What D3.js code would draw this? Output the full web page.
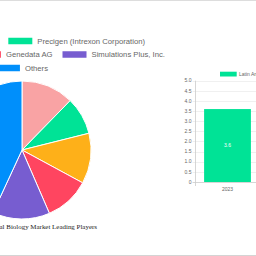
<!DOCTYPE html>
<html>
<head>
<meta charset="utf-8">
<script src="https://cdn.jsdelivr.net/npm/d3@7"></script>
<style>
  body { margin: 0; background: #fff; overflow: hidden; }
  svg { display: block; }
</style>
</head>
<body>
<svg id="chart" width="256" height="256"></svg>
<script>
// leading players pie
var players = ["Certara, Inc.", "Precigen (Intrexon Corporation)", "Schrodinger, Inc.", "Genedata AG", "Simulations Plus, Inc.", "Others"];
var shares = [12.3, 8.8, 11.8, 10.6, 13.4, 43.1];
var pieColors = ["#F9A3A4", "#00E396", "#FEB019", "#FF4560", "#775DD0", "#008FFB"];
var legendRows = [[0, 1], [2, 3, 4], [5]];

// regional bar
var years = ["2023"];
var latam = [3.6];
var yTicks = [0, 0.5, 1, 1.5, 2, 2.5, 3, 3.5, 4, 4.5, 5];

var svg = d3.select("#chart");
var grey = "#666";

// page borders
svg.append("line").attr("x1", 0).attr("x2", 256).attr("y1", 0.5).attr("y2", 0.5)
  .attr("stroke", "#ddd");
svg.append("line").attr("x1", 0).attr("x2", 256).attr("y1", 255.5).attr("y2", 255.5)
  .attr("stroke", "#d4d4d4");

/******** pie ********/
var cx = 22, cy = 150, r = 69;
var pie = d3.pie().sort(null).value(function (d) { return d; });
var arc = d3.arc().innerRadius(0).outerRadius(r);
svg.append("g").attr("transform", "translate(" + cx + "," + cy + ")")
  .selectAll("path")
  .data(pie(shares))
  .enter().append("path")
  .attr("d", arc)
  .attr("fill", function (d, i) { return pieColors[i]; })
  .attr("stroke", "#fff")
  .attr("stroke-width", 1);

// legend rows (right ends taken from the page, rows overflow to the left)
var legFont = 7.7, boxW = 24, boxH = 6.5;
var measure = svg.append("text").style("font", legFont + "px Arial, 'Liberation Sans'");
function textW(s) { measure.text(s); return measure.node().getComputedTextLength(); }
var rowY = [41, 54.5, 68];
var rowEnd = [145, 165, 48];
legendRows.forEach(function (row, ri) {
  var widths = row.map(function (k) { return boxW + 5 + textW(players[k]); });
  var total = d3.sum(widths) + 10 * (row.length - 1);
  var x0 = rowEnd[ri] - total;
  row.forEach(function (k, j) {
    var g = svg.append("g").attr("transform", "translate(" + x0 + "," + rowY[ri] + ")");
    g.append("rect").attr("x", 0).attr("y", -boxH / 2).attr("width", boxW).attr("height", boxH)
      .attr("fill", pieColors[k]);
    g.append("text").attr("x", boxW + 5).attr("y", 0).attr("dy", "0.35em")
      .style("font", legFont + "px Arial, 'Liberation Sans'").attr("fill", grey)
      .text(players[k]);
    x0 += widths[j] + 10;
  });
});
measure.remove();

svg.append("text").attr("x", 97).attr("y", 229).attr("text-anchor", "end")
  .style("font", "6.95px 'Liberation Serif', 'Times New Roman', serif").attr("fill", "#222")
  .text("Computational Biology Market Leading Players");

/******** bar ********/
var y = d3.scaleLinear().domain([0, 5]).range([182, 80.7]);
var x = d3.scaleBand().domain(years).range([195, 260]);
var barW = x.bandwidth() * 0.72;
var tickFont = "5px Arial, 'Liberation Sans'";

var grid = svg.append("g");
grid.selectAll("line").data(yTicks).enter().append("line")
  .attr("x1", 192.5).attr("x2", 256)
  .attr("y1", function (d) { return Math.round(y(d)) + 0.5; })
  .attr("y2", function (d) { return Math.round(y(d)) + 0.5; })
  .attr("stroke", function (d) { return d === 0 ? "#ccc" : "#ececec"; })
  .attr("stroke-width", 0.8);
grid.selectAll("text").data(yTicks).enter().append("text")
  .attr("x", 191.5).attr("y", function (d) { return y(d); }).attr("dy", "0.35em")
  .attr("text-anchor", "end").style("font", tickFont).attr("fill", grey)
  .text(function (d) { return d === 0 ? "0" : d.toFixed(1); });
svg.append("line").attr("x1", 195.5).attr("x2", 195.5).attr("y1", y(5)).attr("y2", 186)
  .attr("stroke", "#ccc").attr("stroke-width", 0.8);

svg.selectAll(".bar").data(latam).enter().append("rect").attr("class", "bar")
  .attr("x", function (d, i) { return x(years[i]) + (x.bandwidth() - barW) / 2; })
  .attr("y", function (d) { return y(d); })
  .attr("width", barW)
  .attr("height", function (d) { return y(0) - y(d); })
  .attr("fill", "#00E396");
svg.selectAll(".barlab").data(latam).enter().append("text")
  .attr("x", function (d, i) { return x(years[i]) + x.bandwidth() / 2; })
  .attr("y", function (d) { return (y(d) + y(0)) / 2; }).attr("dy", "0.35em")
  .attr("text-anchor", "middle").style("font", tickFont).attr("fill", "#fff")
  .text(function (d) { return d; });
svg.selectAll(".xlab").data(years).enter().append("text")
  .attr("x", function (d) { return x(d) + x.bandwidth() / 2; })
  .attr("y", 189).attr("dy", "0.35em")
  .attr("text-anchor", "middle").style("font", tickFont).attr("fill", grey)
  .text(function (d) { return d; });

// bar legend
svg.append("rect").attr("x", 220).attr("y", 71.7).attr("width", 16.7).attr("height", 4.8)
  .attr("fill", "#00E396");
svg.append("text").attr("x", 239).attr("y", 74.1).attr("dy", "0.35em")
  .style("font", tickFont).attr("fill", grey).text("Latin America");
</script>
</body>
</html>
